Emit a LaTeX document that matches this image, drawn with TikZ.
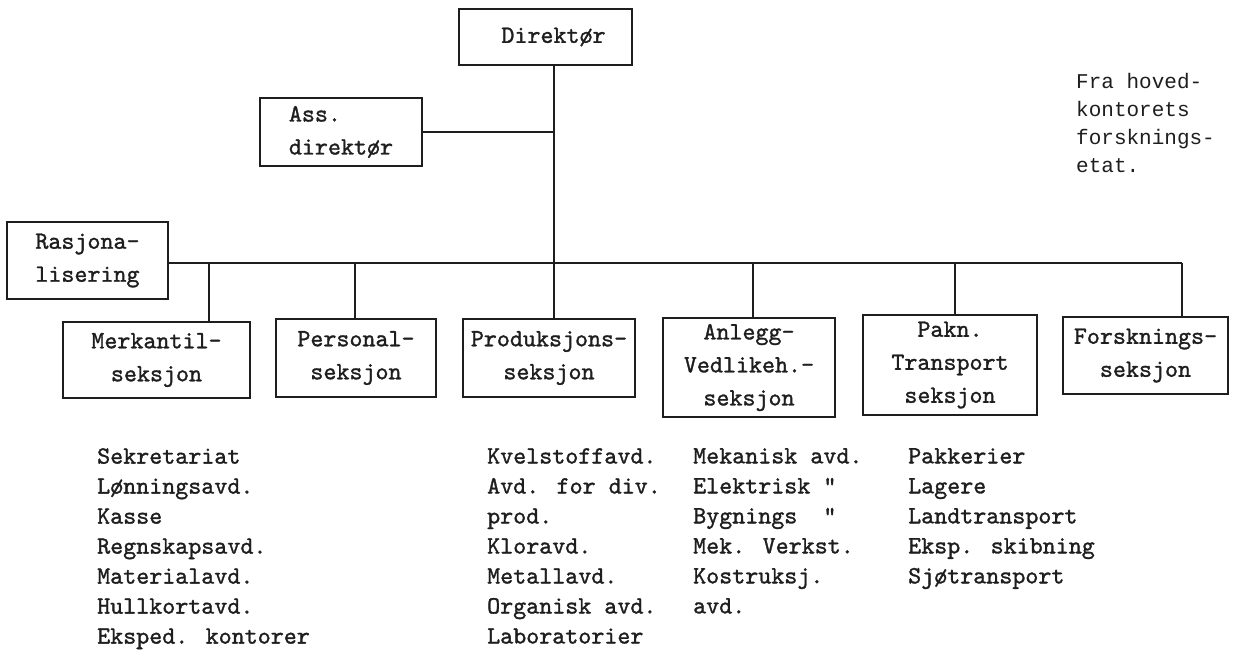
\documentclass[tikz,border=0pt]{standalone}
\usepackage{fontspec}
\newfontfamily\courierfam{Liberation Mono}
\newfontfamily\typefam[FakeBold=1.2]{lmmono10-regular.otf}
\newcommand\bxfont{\typefam\fontsize{24.8}{33}\selectfont}
\newcommand\lsfont{\typefam\fontsize{24.8}{30}\selectfont}
\newcommand\frfont{\courierfam\fontsize{21}{28}\selectfont}
\definecolor{ink}{HTML}{1E1E1E}
\begin{document}
\begin{tikzpicture}[x=1pt,y=-1pt,
  ln/.style={draw=ink,line width=2.4pt},
  box/.style={draw=ink,line width=2.4pt,rectangle,inner sep=0pt,align=center,font=\bxfont,text=ink},
  lst/.style={anchor=north west,inner sep=0pt,align=left,font=\lsfont,text=ink}]
\useasboundingbox[fill=white] (0,0) rectangle (1234,661);

% boxes
\node[box,minimum width=173,minimum height=56] (dir) at (545.5,37) {\hspace*{16pt}Direktør};
\node[box,align=left,minimum width=162,minimum height=68] (ass) at (341,132) {Ass.\\direktør};
\node[box,minimum width=161,minimum height=77] (ras) at (87.5,260.5) {Rasjona-\\lisering};
\node[box,minimum width=187,minimum height=76] (mer) at (156.5,360) {Merkantil-\\seksjon};
\node[box,minimum width=160,minimum height=78] (per) at (356,358) {Personal-\\seksjon};
\node[box,minimum width=172,minimum height=78] (pro) at (549,358) {Produksjons-\\seksjon};
\node[box,minimum width=172,minimum height=99] (anl) at (749,367.5) {Anlegg-\\Vedlikeh.-\\seksjon};
\node[box,minimum width=174,minimum height=100] (pak) at (950,365) {Pakn.\\Transport\\seksjon};
\node[box,minimum width=165,minimum height=77] (fors) at (1145.5,355.5) {Forsknings-\\seksjon};

% junction points on the bus
\coordinate (jt) at (554,263);
\coordinate (d1) at (209,263);
\coordinate (d2) at (355,263);
\coordinate (d4) at (753,263);
\coordinate (d5) at (955,263);
\coordinate (d6) at (1182,263);

% connectors
\draw[ln] (dir.south -| jt) -- (jt);
\draw[ln] (ass.east) -- (ass.east -| jt);
\draw[ln] (ras.east |- jt) -- (d6);
\draw[ln] (d1) -- (d1 |- mer.north);
\draw[ln] (d2) -- (d2 |- per.north);
\draw[ln] (jt) -- (jt |- pro.north);
\draw[ln] (d4) -- (d4 |- anl.north);
\draw[ln] (d5) -- (d5 |- pak.north);
\draw[ln] (d6) -- (d6 |- fors.north);

% note
\node[lst,font=\frfont] (note) at (1076,73) {Fra hoved-\\kontorets\\forsknings-\\etat.};

% lists
\node[lst] (l1) at (97,448) {Sekretariat\\Lønningsavd.\\Kasse\\Regnskapsavd.\\Materialavd.\\Hullkortavd.\\Eksped. kontorer};
\node[lst] (l2) at (487,448) {Kvelstoffavd.\\Avd. for div.\\prod.\\Kloravd.\\Metallavd.\\Organisk avd.\\Laboratorier};
\node[lst] (l3) at (693,448) {Mekanisk avd.\\Elektrisk "\\Bygnings{ }{ }"\\Mek. Verkst.\\Kostruksj.\\avd.};
\node[lst] (l4) at (908,448) {Pakkerier\\Lagere\\Landtransport\\Eksp. skibning\\Sjøtransport};
\end{tikzpicture}
\end{document}
